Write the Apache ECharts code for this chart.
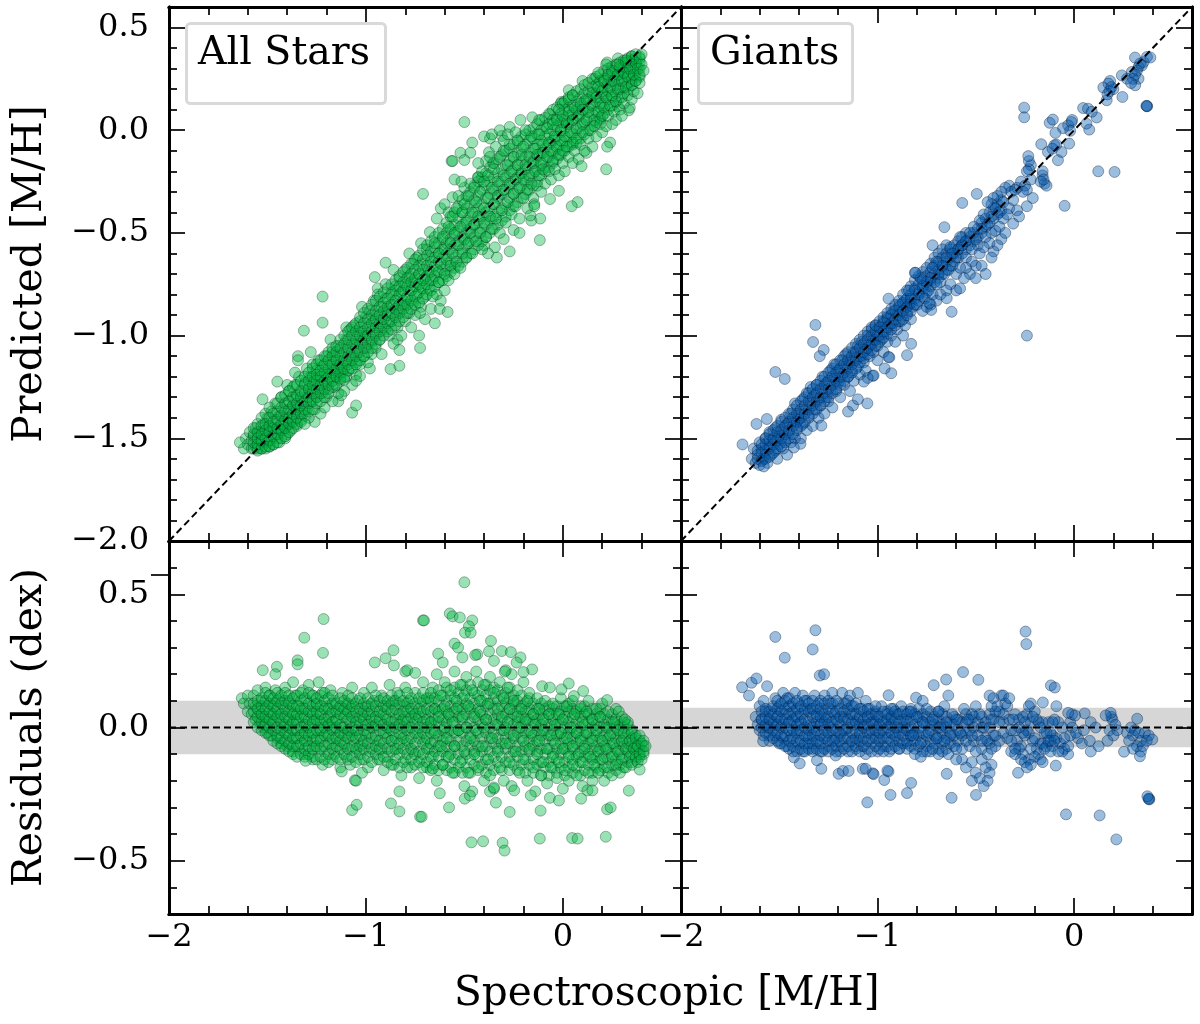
<!DOCTYPE html>
<html><head><meta charset="utf-8">
<style>html,body{margin:0;padding:0;background:#fff}#c{width:1200px;height:1024px}</style>
<script src="https://cdn.jsdelivr.net/npm/echarts@6/dist/echarts.min.js"></script></head>
<body><div id="c"></div>
<script>
const xMajor=[-2,-1,0];
const xMinor=[-1.8,-1.6,-1.4,-1.2,-0.8,-0.6,-0.4,-0.2,0.2,0.4];
const topMajor=[-2,-1.5,-1,-0.5,0,0.5];
const topMinor=[-1.9,-1.8,-1.7,-1.6,-1.4,-1.3,-1.2,-1.1,-0.9,-0.8,-0.7,-0.6,-0.4,-0.3,-0.2,-0.1,0.1,0.2,0.3,0.4];
const botMajor=[-0.5,0,0.5];
const botMinor=[-0.6,-0.4,-0.3,-0.2,-0.1,0.1,0.2,0.3,0.4,0.6];
const strayTick=[0.575];
const identityLine=[[-2,-2],[0.6,0.6]];
const zeroLine=[[-2,0],[0.6,0]];
const allBand=0.1, giantBand=0.074;

const allTopOutliers=[[-0.5,0.04],[-0.46,-0.06],[-0.52,-0.11],[-0.47,-0.11],[-0.565,-0.15],[-0.56,-0.15],[-0.5,-0.145],[-0.43,-0.16],[-0.71,-0.31],[-0.55,-0.24],[-0.515,-0.25],[-0.117,-0.535],[-0.27,-0.59],[0.22,-0.19],[0.24,-0.06],[0.225,-0.08],[0.095,-0.175],[0.075,-0.35],[0.045,-0.37],[-0.02,-0.295],[-0.065,-0.335],[-0.115,-0.43],[-0.165,-0.415],[-0.145,-0.36],[-0.145,-0.37],[-1.64,-1.52],[-1.525,-1.31],[-1.45,-1.224],[-1.315,-0.976],[-1.22,-0.81],[-1.22,-0.937],[-1.345,-1.1],[-1.345,-1.12],[-1.36,-1.18],[-1.31,-1.43],[-1.125,-1.29],[-1.07,-1.375],[-1.05,-1.34],[-1.11,-1.215],[-1.05,-1.22],[-1.03,-1.197],[-0.875,-1.163],[-0.83,-1.147],[-0.83,-1.07],[-0.725,-1.06],[-0.66,-0.81],[-0.625,-0.87],[-0.585,-0.885],[-0.725,-0.89],[-0.955,-0.715],[-0.9,-0.645],[-0.4,-0.03],[-0.36,-0.02],[-0.32,0],[-0.3,-0.05],[-0.28,-0.02],[-0.24,-0.01],[-0.19,0],[-0.12,0.05],[0.0,0.13],[-0.02,0.1],[0.03,0.15],[0.05,0.17],[0.18,0.28],[0.22,0.32],[0.32,0.34],[0.28,0.32]];
const allTopEdge=[[0.03,0.195],[0.1,0.24],[0.16,0.25],[0.225,0.33],[0.28,0.35],[-0.007,0.138],[-0.065,0.078],[-0.155,0.063],[-0.215,0.05],[-0.27,0.016],[-0.31,-0.028],[-0.37,-0.04],[0.335,0.097],[0.28,0.117],[0.19,0.05],[0.12,-0.11],[-0.355,-0.16],[-0.375,-0.107],[-0.43,-0.228],[-0.56,-0.326],[-0.64,-0.43],[-0.675,-0.496],[-0.25,-0.486],[-0.335,-0.62],[-0.345,-0.57],[-0.4,-0.56],[-0.38,-0.6],[-0.3,-0.53],[-0.22,-0.5],[-0.16,-0.44],[-0.62,-0.38],[-0.6,-0.36],[-0.58,-0.4],[-0.72,-0.55],[-0.78,-0.6],[-0.86,-0.68],[-0.94,-0.77],[-1.02,-0.86],[-1.1,-0.96],[-1.18,-1.02],[-1.28,-1.08],[-1.4,-1.24],[-0.84,-1.02],[-0.98,-1.16],[-1.14,-1.32],[-1.26,-1.42]];
const allTopCoreA=[[-1.62,-1.55],[-1.61,-1.5],[-1.6,-1.53],[-1.59,-1.47],[-1.58,-1.55],[-1.58,-1.51],[-1.57,-1.49],[-1.56,-1.54],[-1.56,-1.45],[-1.55,-1.56],[-1.55,-1.5],[-1.54,-1.47],[-1.53,-1.55],[-1.53,-1.52],[-1.52,-1.43],[-1.52,-1.49],[-1.51,-1.55],[-1.5,-1.46],[-1.5,-1.52],[-1.5,-1.4],
[-1.49,-1.54],[-1.49,-1.44],[-1.48,-1.5],[-1.48,-1.37],[-1.47,-1.46],[-1.47,-1.53],[-1.46,-1.41],[-1.46,-1.33],[-1.45,-1.5],[-1.45,-1.45],[-1.44,-1.39],[-1.44,-1.52],[-1.43,-1.47],[-1.43,-1.3],[-1.42,-1.42],[-1.42,-1.36],[-1.41,-1.5],[-1.41,-1.45],[-1.4,-1.33],[-1.4,-1.4],[-1.4,-1.48],
[-1.39,-1.27],[-1.39,-1.43],[-1.38,-1.36],[-1.38,-1.46],[-1.37,-1.31],[-1.37,-1.41],[-1.36,-1.24],[-1.36,-1.37],[-1.35,-1.44],[-1.35,-1.3],[-1.34,-1.35],[-1.34,-1.2],[-1.33,-1.41],[-1.33,-1.28],[-1.32,-1.33],[-1.32,-1.38],[-1.31,-1.23],[-1.3,-1.3],[-1.3,-1.36],[-1.3,-1.16],
[-1.29,-1.26],[-1.29,-1.4],[-1.28,-1.2],[-1.28,-1.32],[-1.27,-1.27],[-1.27,-1.14],[-1.26,-1.36],[-1.26,-1.22],[-1.25,-1.17],[-1.25,-1.3],[-1.24,-1.25],[-1.24,-1.12],[-1.23,-1.38],[-1.23,-1.2],[-1.22,-1.28],[-1.22,-1.15],[-1.21,-1.23],[-1.21,-1.35],[-1.2,-1.1],[-1.2,-1.19],[-1.2,-1.3],
[-1.19,-1.26],[-1.18,-1.14],[-1.18,-1.21],[-1.17,-1.32],[-1.17,-1.08],[-1.16,-1.17],[-1.16,-1.25],[-1.15,-1.12],[-1.15,-1.2],[-1.14,-1.28],[-1.14,-1.05],[-1.13,-1.15],[-1.13,-1.22],[-1.12,-1.1],[-1.12,-1.18],[-1.11,-1.27],[-1.1,-1.02],[-1.1,-1.13],[-1.1,-1.2],[-1.09,-1.07],
[-1.08,-1.16],[-1.08,-0.97],[-1.07,-1.24],[-1.07,-1.1],[-1.06,-1.04],[-1.06,-0.95],[-1.05,-1.13],[-1.05,-1.19],[-1.04,-1.0],[-1.04,-1.08],[-1.03,-0.93],[-1.03,-1.14],[-1.02,-1.03],[-1.02,-0.98],[-1.01,-1.1],[-1.0,-0.91],[-1.0,-1.0],[-1.0,-1.06],[-0.99,-1.13],[-0.98,-0.96],
[-0.98,-0.88],[-0.97,-1.03],[-0.97,-1.09],[-0.96,-0.93],[-0.96,-0.83],[-0.95,-0.99],[-0.95,-1.06],[-0.94,-0.9],[-0.94,-0.8],[-0.93,-0.96],[-0.93,-1.02],[-0.92,-0.86],[-0.92,-1.09],[-0.91,-0.92],[-0.9,-0.97],[-0.9,-0.82],[-0.9,-0.75],[-0.89,-0.88],[-0.88,-1.0],[-0.88,-0.93],
[-0.87,-0.79],[-0.86,-0.85],[-0.86,-1.04],[-0.85,-0.9],[-0.85,-0.76],[-0.84,-0.96],[-0.84,-0.82],[-0.83,-0.72],[-0.83,-0.88],[-0.82,-1.0],[-0.82,-0.79],[-0.81,-0.85],[-0.8,-0.93],[-0.8,-0.75],[-0.8,-0.68],[-0.79,-0.82],[-0.78,-0.89],[-0.78,-0.71],[-0.77,-0.96],[-0.77,-0.78],
[-0.76,-0.65],[-0.76,-0.84],[-0.75,-0.74],[-0.75,-0.9],[-0.74,-0.8],[-0.74,-0.62],[-0.73,-0.7],[-0.73,-1.0],[-0.72,-0.86],[-0.72,-0.76],[-0.71,-0.65],[-0.7,-0.81],[-0.7,-0.92],[-0.7,-0.72],[-0.69,-0.58],[-0.68,-0.77],[-0.68,-0.68],[-0.67,-0.87],[-0.67,-0.62],[-0.66,-0.73]];
const allTopCoreB=[[-0.65,-0.94],[-0.65,-0.55],[-0.64,-0.68],[-0.64,-0.8],[-0.63,-0.6],[-0.63,-0.74],[-0.62,-0.65],[-0.62,-0.83],[-0.61,-0.52],[-0.6,-0.7],[-0.6,-0.58],[-0.6,-0.78],[-0.59,-0.63],[-0.58,-0.47],[-0.58,-0.73],[-0.57,-0.55],[-0.57,-0.66],[-0.56,-0.42],[-0.56,-0.6],[-0.55,-0.7],
[-0.55,-0.5],[-0.54,-0.38],[-0.54,-0.64],[-0.53,-0.56],[-0.53,-0.32],[-0.52,-0.47],[-0.52,-0.67],[-0.51,-0.6],[-0.51,-0.4],[-0.5,-0.53],[-0.5,-0.28],[-0.5,-0.36],[-0.49,-0.62],[-0.49,-0.45],[-0.48,-0.55],[-0.48,-0.32],[-0.47,-0.26],[-0.47,-0.5],[-0.46,-0.6],[-0.46,-0.4],
[-0.45,-0.46],[-0.45,-0.28],[-0.44,-0.54],[-0.44,-0.35],[-0.43,-0.23],[-0.43,-0.42],[-0.42,-0.5],[-0.42,-0.3],[-0.41,-0.2],[-0.41,-0.58],[-0.4,-0.38],[-0.4,-0.45],[-0.4,-0.25],[-0.39,-0.15],[-0.39,-0.52],[-0.38,-0.33],[-0.38,-0.22],[-0.37,-0.42],[-0.37,-0.13],[-0.36,-0.28],
[-0.36,-0.48],[-0.35,-0.36],[-0.35,-0.19],[-0.34,-0.08],[-0.34,-0.43],[-0.33,-0.25],[-0.33,-0.32],[-0.32,-0.13],[-0.32,-0.5],[-0.31,-0.39],[-0.3,-0.22],[-0.3,-0.29],[-0.3,-0.1],[-0.29,-0.45],[-0.28,-0.35],[-0.28,-0.17],[-0.27,-0.26],[-0.27,-0.07],[-0.26,-0.41],[-0.26,-0.2],
[-0.25,-0.31],[-0.25,-0.13],[-0.24,-0.24],[-0.24,-0.37],[-0.23,-0.17],[-0.23,-0.05],[-0.22,-0.28],[-0.22,-0.43],[-0.21,-0.21],[-0.21,-0.12],[-0.2,-0.33],[-0.2,-0.24],[-0.2,-0.08],[-0.19,-0.17],[-0.18,-0.29],[-0.18,-0.38],[-0.17,-0.13],[-0.17,-0.22],[-0.16,-0.03],[-0.16,-0.26],
[-0.15,-0.16],[-0.15,-0.33],[-0.14,-0.09],[-0.14,-0.2],[-0.13,-0.27],[-0.13,-0.12],[-0.12,-0.02],[-0.12,-0.22],[-0.11,-0.16],[-0.11,-0.3],[-0.1,-0.07],[-0.1,-0.11],[-0.1,-0.19],[-0.09,-0.26],[-0.08,-0.13],[-0.08,0.01],[-0.07,-0.06],[-0.07,-0.2],[-0.06,-0.1],[-0.06,-0.24],
[-0.05,0.03],[-0.05,-0.15],[-0.04,-0.03],[-0.04,-0.19],[-0.03,-0.08],[-0.03,0.05],[-0.02,-0.12],[-0.02,-0.22],[-0.01,0],[-0.01,-0.05],[0,-0.16],[0,0.07],[0,-0.1],[0.01,-0.03],[0.01,-0.2],[0.02,0.03],[0.02,-0.08],[0.03,-0.13],[0.03,0.09],[0.04,-0.01],
[0.05,-0.16],[0.05,0.05],[0.05,-0.06],[0.06,0.11],[0.06,-0.1],[0.07,0.01],[0.07,-0.04],[0.08,0.07],[0.08,-0.14],[0.09,0.13],[0.09,-0.07],[0.1,0.03],[0.1,-0.01],[0.1,0.1],[0.11,-0.1],[0.12,0.05],[0.12,0.15],[0.13,-0.04],[0.13,0.09],[0.14,0],
[0.15,0.18],[0.15,0.12],[0.15,-0.08],[0.16,0.05],[0.16,0.02],[0.17,0.16],[0.17,-0.03],[0.18,0.09],[0.18,0.21],[0.19,0.03],[0.19,0.13],[0.2,-0.01],[0.2,0.19],[0.2,0.07],[0.21,0.24],[0.21,0.11],[0.22,0.02],[0.22,0.16],[0.23,0.27],[0.23,0.07],
[0.24,0.21],[0.24,0.12],[0.25,0.03],[0.25,0.29],[0.25,0.17],[0.26,0.09],[0.26,0.24],[0.27,0.05],[0.27,0.14],[0.28,0.27],[0.28,0.2],[0.29,0.1],[0.29,0.31],[0.3,0.16],[0.3,0.24],[0.3,0.07],[0.31,0.28],[0.31,0.13],[0.32,0.21],[0.32,0.33],
[0.33,0.17],[0.33,0.26],[0.34,0.11],[0.34,0.3],[0.35,0.22],[0.35,0.36],[0.35,0.15],[0.36,0.27],[0.36,0.19],[0.37,0.33],[0.37,0.24],[0.37,0.37],[0.38,0.18],[0.38,0.3],[0.39,0.35],[0.39,0.23],[0.39,0.27],[0.4,0.32],[0.4,0.37],[0.41,0.29]];
// dense-core readings: each row is one x followed by the predicted values read near it
const allTopStrips=[[-1.57,-1.55,-1.52,-1.48,-1.45],[-1.55,-1.55,-1.53,-1.5,-1.47,-1.43],[-1.53,-1.55,-1.51,-1.48,-1.44,-1.4],[-1.51,-1.54,-1.5,-1.46,-1.43,-1.38],[-1.49,-1.54,-1.51,-1.47,-1.44,-1.4,-1.35],[-1.47,-1.53,-1.49,-1.45,-1.42,-1.38],[-1.45,-1.52,-1.48,-1.45,-1.41,-1.37,-1.33],[-1.43,-1.5,-1.46,-1.43,-1.39,-1.35,-1.3],[-1.41,-1.49,-1.45,-1.41,-1.37,-1.33,-1.29],[-1.39,-1.47,-1.43,-1.4,-1.36,-1.32,-1.27],[-1.37,-1.45,-1.42,-1.38,-1.34,-1.3,-1.25],[-1.35,-1.43,-1.4,-1.36,-1.33,-1.29,-1.24],[-1.33,-1.42,-1.38,-1.34,-1.3,-1.27,-1.22],[-1.31,-1.39,-1.36,-1.32,-1.28,-1.24,-1.2],[-1.29,-1.37,-1.33,-1.3,-1.26,-1.22,-1.18],[-1.27,-1.36,-1.32,-1.28,-1.24,-1.2,-1.16],[-1.25,-1.33,-1.3,-1.26,-1.22,-1.19,-1.14],[-1.23,-1.32,-1.28,-1.24,-1.2,-1.17,-1.12],[-1.21,-1.3,-1.26,-1.22,-1.18,-1.14,-1.1],[-1.19,-1.28,-1.24,-1.2,-1.16,-1.12,-1.08],[-1.17,-1.25,-1.22,-1.18,-1.14,-1.1,-1.06],[-1.15,-1.24,-1.2,-1.16,-1.12,-1.08,-1.05],[-1.13,-1.21,-1.18,-1.14,-1.1,-1.06,-1.02],[-1.11,-1.2,-1.16,-1.12,-1.08,-1.04,-1.0],[-1.09,-1.17,-1.14,-1.1,-1.06,-1.02,-0.98],[-1.07,-1.16,-1.12,-1.08,-1.04,-1.0,-0.96],[-1.05,-1.14,-1.1,-1.06,-1.02,-0.98,-0.94],[-1.03,-1.12,-1.08,-1.04,-1.0,-0.96,-0.91],[-1.01,-1.1,-1.06,-1.02,-0.98,-0.94,-0.89],[-0.99,-1.08,-1.04,-1.0,-0.96,-0.92,-0.87],[-0.97,-1.06,-1.02,-0.98,-0.94,-0.9,-0.85],[-0.95,-1.04,-1.0,-0.96,-0.92,-0.88,-0.83],[-0.93,-1.02,-0.98,-0.94,-0.9,-0.86,-0.81],[-0.91,-1.0,-0.96,-0.92,-0.88,-0.84,-0.79],[-0.89,-0.98,-0.94,-0.9,-0.86,-0.82,-0.77],[-0.87,-0.97,-0.93,-0.89,-0.85,-0.8,-0.75],[-0.85,-0.95,-0.91,-0.87,-0.83,-0.78,-0.73],[-0.83,-0.93,-0.89,-0.85,-0.8,-0.76,-0.71],[-0.81,-0.91,-0.87,-0.83,-0.78,-0.74,-0.69],[-0.79,-0.89,-0.85,-0.81,-0.76,-0.72,-0.67],[-0.77,-0.87,-0.83,-0.78,-0.74,-0.7,-0.65],[-0.75,-0.85,-0.81,-0.76,-0.72,-0.68,-0.63],[-0.73,-0.84,-0.79,-0.75,-0.7,-0.66,-0.61],[-0.71,-0.82,-0.77,-0.73,-0.68,-0.63,-0.58],[-0.69,-0.8,-0.75,-0.71,-0.66,-0.61,-0.56],[-0.67,-0.78,-0.73,-0.69,-0.64,-0.59,-0.54],[-0.65,-0.76,-0.71,-0.66,-0.62,-0.57,-0.52],[-0.63,-0.74,-0.69,-0.64,-0.6,-0.55,-0.5],[-0.61,-0.73,-0.68,-0.62,-0.58,-0.53,-0.48],[-0.59,-0.71,-0.66,-0.6,-0.55,-0.5,-0.45],[-0.57,-0.69,-0.64,-0.58,-0.53,-0.48,-0.42],[-0.55,-0.67,-0.62,-0.56,-0.51,-0.46,-0.4],[-0.53,-0.66,-0.6,-0.54,-0.49,-0.43,-0.37],[-0.51,-0.64,-0.58,-0.52,-0.46,-0.4,-0.34],[-0.49,-0.62,-0.56,-0.5,-0.44,-0.38,-0.32],[-0.47,-0.6,-0.54,-0.48,-0.42,-0.36,-0.3],[-0.45,-0.58,-0.52,-0.46,-0.4,-0.34,-0.27],[-0.43,-0.56,-0.5,-0.44,-0.38,-0.32,-0.25],[-0.41,-0.54,-0.48,-0.42,-0.36,-0.29,-0.23],[-0.39,-0.52,-0.46,-0.4,-0.33,-0.27,-0.21],[-0.37,-0.5,-0.44,-0.38,-0.31,-0.25,-0.18],[-0.35,-0.48,-0.42,-0.36,-0.29,-0.23,-0.16],[-0.33,-0.46,-0.4,-0.33,-0.27,-0.21,-0.14],[-0.31,-0.44,-0.38,-0.31,-0.25,-0.19,-0.12],[-0.29,-0.42,-0.36,-0.29,-0.23,-0.17,-0.1],[-0.27,-0.39,-0.33,-0.27,-0.21,-0.15,-0.09],[-0.25,-0.37,-0.31,-0.25,-0.19,-0.13,-0.07],[-0.23,-0.35,-0.29,-0.23,-0.17,-0.11,-0.05],[-0.21,-0.33,-0.27,-0.21,-0.15,-0.09,-0.03],[-0.19,-0.31,-0.25,-0.19,-0.13,-0.07,-0.02],[-0.17,-0.29,-0.23,-0.17,-0.11,-0.05,0],[-0.15,-0.27,-0.21,-0.15,-0.09,-0.04,0.01],[-0.13,-0.25,-0.19,-0.13,-0.07,-0.02,0.03],[-0.11,-0.22,-0.17,-0.11,-0.05,0,0.05],[-0.09,-0.2,-0.15,-0.09,-0.03,0.02,0.06],[-0.07,-0.18,-0.13,-0.07,-0.02,0.03,0.08],[-0.05,-0.16,-0.11,-0.05,0,0.05,0.1],[-0.03,-0.14,-0.09,-0.03,0.02,0.06,0.11],[-0.01,-0.12,-0.07,-0.01,0.04,0.08,0.13],[0.01,-0.1,-0.05,0.01,0.05,0.1,0.14],[0.03,-0.08,-0.03,0.03,0.07,0.11,0.16],[0.05,-0.07,-0.02,0.05,0.08,0.12,0.17],[0.07,-0.06,0,0.06,0.1,0.14,0.19],[0.09,-0.04,0.02,0.08,0.12,0.16,0.2],[0.11,-0.02,0.04,0.1,0.14,0.18,0.22],[0.13,0,0.06,0.11,0.15,0.19,0.23],[0.15,0.02,0.08,0.13,0.17,0.21,0.25],[0.17,0.04,0.09,0.14,0.18,0.22,0.26],[0.19,0.06,0.11,0.16,0.2,0.24,0.27],[0.21,0.08,0.13,0.17,0.21,0.25,0.29],[0.23,0.1,0.15,0.19,0.23,0.26,0.3],[0.25,0.12,0.16,0.2,0.24,0.28,0.31],[0.27,0.14,0.18,0.22,0.26,0.29,0.32],[0.29,0.16,0.2,0.24,0.27,0.3,0.33],[0.31,0.18,0.21,0.25,0.28,0.31,0.34],[0.33,0.2,0.23,0.27,0.3,0.33,0.35],[0.35,0.22,0.25,0.28,0.31,0.34,0.36],[0.37,0.24,0.27,0.3,0.33,0.35],[0.39,0.26,0.3,0.33,0.36]];

const allBotOutliers=[[-1.215,0.407],[-1.313,0.337],[-1.218,0.28],[-1.347,0.252],[-1.347,0.237],[-1.524,0.215],[-1.452,0.228],[-1.46,0.2],[-0.86,0.29],[-0.9,0.26],[-0.955,0.244],[-0.858,0.233],[-0.71,0.402],[-0.8,0.21],[-0.79,0.215],[-0.75,0.205],[-0.83,-0.24],[-0.873,-0.285],[-0.83,-0.315],[-0.725,-0.335],[-1.07,-0.31],[-1.047,-0.29],[-1.123,-0.165],[-1.306,-0.125],[-1.056,-0.198],[-1.05,-0.2],[-1.02,-0.17],[-0.5,0.545],[-0.574,0.428],[-0.56,0.417],[-0.523,0.413],[-0.46,0.402],[-0.477,0.38],[-0.497,0.356],[-0.468,0.356],[-0.705,0.402],[-0.55,0.315],[-0.532,0.3],[-0.365,0.325],[-0.633,0.277],[-0.61,0.244],[-0.51,0.263],[-0.435,0.274],[-0.445,0.272],[-0.375,0.286],[-0.31,0.287],[-0.264,0.283],[-0.215,0.263],[-0.35,0.25],[-0.235,0.244],[-0.156,0.218],[-0.2,0.208],[-0.29,0.215],[-0.295,0.21],[-0.105,0.155],[-0.066,0.15],[0.03,0.165],[-0.007,0.143],[0.103,0.137],[0.056,0.118],[0.225,0.103],[0.284,0.06],[0.315,0.03],[-0.66,-0.154],[-0.625,-0.247],[-0.578,-0.3],[-0.717,-0.335],[-0.464,-0.431],[-0.405,-0.427],[-0.306,-0.433],[-0.296,-0.462],[-0.117,-0.417],[0.047,-0.415],[0.075,-0.417],[0.218,-0.41],[-0.27,-0.317],[-0.34,-0.282],[-0.113,-0.312],[-0.498,-0.267],[-0.472,-0.255],[-0.37,-0.24],[-0.35,-0.225],[-0.247,-0.236],[-0.163,-0.255],[-0.066,-0.264],[-0.02,-0.274],[0.093,-0.267],[0.125,-0.236],[0.15,-0.236],[0.225,-0.307],[0.243,-0.3],[0.335,-0.237],[0.39,-0.158]];
const allBotCoreA=[[-1.63,0.11],[-1.62,0.09],[-1.6,0.12],[-1.6,0.06],[-1.59,0.09],[-1.58,0.05],[-1.57,0.12],[-1.56,0.03],[-1.56,0.08],[-1.55,0.14],[-1.54,0.02],[-1.54,0.06],[-1.53,0.1],[-1.52,0.0],[-1.52,0.04],[-1.51,0.15],[-1.5,0.08],[-1.5,-0.02],[-1.5,0.03],[-1.49,0.12],
[-1.48,0.05],[-1.48,-0.03],[-1.47,0.09],[-1.47,0.01],[-1.46,0.14],[-1.45,-0.04],[-1.45,0.06],[-1.44,0.03],[-1.44,0.11],[-1.43,-0.06],[-1.42,0.0],[-1.42,0.08],[-1.41,0.15],[-1.4,-0.07],[-1.4,0.04],[-1.4,-0.02],[-1.39,0.1],[-1.38,0.01],[-1.38,0.06],[-1.37,-0.09],
[-1.37,0.17],[-1.36,-0.04],[-1.36,0.12],[-1.35,0.03],[-1.34,0.08],[-1.34,-0.07],[-1.33,-0.01],[-1.32,0.14],[-1.32,0.05],[-1.31,-0.1],[-1.3,0.01],[-1.3,0.1],[-1.3,-0.05],[-1.29,0.16],[-1.28,0.06],[-1.28,-0.02],[-1.27,-0.12],[-1.27,0.12],[-1.26,0.03],[-1.26,-0.07],
[-1.25,0.09],[-1.24,0.0],[-1.24,0.17],[-1.23,-0.04],[-1.23,0.05],[-1.22,-0.14],[-1.22,0.13],[-1.21,-0.09],[-1.2,0.02],[-1.2,0.08],[-1.2,-0.02],[-1.19,-0.13],[-1.18,0.14],[-1.18,0.05],[-1.17,-0.06],[-1.17,0.0],[-1.16,0.1],[-1.16,-0.1],[-1.15,0.03],[-1.14,0.07],
[-1.14,-0.03],[-1.13,-0.15],[-1.12,0.13],[-1.12,0.0],[-1.11,-0.07],[-1.1,0.05],[-1.1,0.09],[-1.1,-0.11],[-1.09,-0.02],[-1.08,0.02],[-1.08,-0.14],[-1.07,0.15],[-1.07,0.07],[-1.06,-0.05],[-1.05,-0.09],[-1.05,0.03],[-1.04,0.1],[-1.04,-0.01],[-1.03,-0.12],[-1.02,0.05],
[-1.02,-0.06],[-1.01,0.13],[-1.0,0.01],[-1.0,-0.03],[-1.0,0.08],[-0.99,-0.15],[-0.98,-0.09],[-0.98,0.04],[-0.97,0.15],[-0.96,0.0],[-0.96,0.1],[-0.95,-0.05],[-0.94,-0.12],[-0.94,0.06],[-0.93,0.02],[-0.92,0.12],[-0.92,-0.08],[-0.91,-0.16],[-0.9,0.04],[-0.9,-0.02],
[-0.9,0.08],[-0.89,-0.11],[-0.88,0.16],[-0.88,0.0],[-0.87,-0.05],[-0.86,0.1],[-0.86,-0.14],[-0.85,0.05],[-0.84,-0.08],[-0.84,0.13],[-0.83,0.02],[-0.82,-0.18],[-0.82,-0.03],[-0.81,0.08],[-0.8,-0.12],[-0.8,0.04],[-0.8,0.15],[-0.79,-0.06],[-0.78,0.0],[-0.78,0.1],
[-0.77,-0.15],[-0.76,0.06],[-0.76,-0.09],[-0.75,0.13],[-0.74,-0.02],[-0.74,0.03],[-0.73,-0.19],[-0.72,0.09],[-0.72,-0.12],[-0.71,0.17],[-0.7,-0.05],[-0.7,0.05],[-0.7,0.0],[-0.69,-0.15],[-0.68,0.11],[-0.68,-0.08],[-0.67,0.02],[-0.66,0.15],[-0.66,-0.11],[-0.65,0.07]];
const allBotCoreB=[[-0.65,-0.02],[-0.64,-0.2],[-0.64,0.2],[-0.63,0.04],[-0.62,-0.07],[-0.62,0.12],[-0.61,-0.14],[-0.6,0.0],[-0.6,0.08],[-0.6,0.17],[-0.59,-0.04],[-0.58,-0.11],[-0.58,0.05],[-0.57,0.14],[-0.56,-0.17],[-0.56,0.02],[-0.55,0.21],[-0.55,-0.07],[-0.54,0.1],[-0.54,0.07],
[-0.53,-0.01],[-0.52,-0.13],[-0.52,0.16],[-0.51,0.04],[-0.5,-0.09],[-0.5,0.12],[-0.5,-0.22],[-0.49,0.19],[-0.49,0.0],[-0.48,0.08],[-0.48,-0.17],[-0.47,-0.04],[-0.46,0.14],[-0.46,-0.24],[-0.45,0.04],[-0.45,-0.1],[-0.44,0.21],[-0.44,-0.01],[-0.43,-0.15],[-0.42,0.1],
[-0.42,0.06],[-0.41,-0.07],[-0.4,0.16],[-0.4,-0.2],[-0.4,0.0],[-0.39,0.03],[-0.38,-0.12],[-0.38,0.09],[-0.37,-0.18],[-0.37,0.19],[-0.36,-0.04],[-0.35,0.13],[-0.35,-0.23],[-0.34,0.01],[-0.33,-0.09],[-0.33,0.07],[-0.32,-0.15],[-0.32,0.17],[-0.31,0.04],[-0.3,-0.01],
[-0.3,0.11],[-0.3,-0.2],[-0.29,-0.06],[-0.28,0.15],[-0.28,0.02],[-0.27,-0.13],[-0.27,0.07],[-0.26,-0.22],[-0.26,0.2],[-0.25,-0.03],[-0.25,0.1],[-0.24,-0.09],[-0.23,0.04],[-0.23,0.14],[-0.22,-0.17],[-0.22,0.0],[-0.21,0.07],[-0.2,-0.12],[-0.2,0.17],[-0.2,-0.05],
[-0.19,0.03],[-0.18,-0.2],[-0.18,0.1],[-0.17,-0.08],[-0.17,0.13],[-0.16,-0.02],[-0.15,-0.15],[-0.15,0.05],[-0.14,-0.24],[-0.14,0.01],[-0.13,0.11],[-0.13,-0.1],[-0.12,-0.05],[-0.12,0.07],[-0.11,-0.18],[-0.1,0.03],[-0.1,-0.13],[-0.1,-0.01],[-0.09,0.1],[-0.08,-0.08],
[-0.08,-0.21],[-0.07,0.05],[-0.06,-0.03],[-0.06,-0.15],[-0.05,0.09],[-0.05,-0.11],[-0.04,0.01],[-0.04,-0.06],[-0.03,-0.19],[-0.02,0.05],[-0.02,-0.13],[-0.01,0.11],[-0.01,-0.02],[0,-0.08],[0,-0.23],[0,0.03],[0.01,-0.16],[0.02,0.08],[0.02,-0.04],[0.03,-0.11],
[0.03,-0.2],[0.04,0.0],[0.05,0.1],[0.05,-0.07],[0.05,-0.14],[0.06,0.05],[0.07,-0.02],[0.07,-0.18],[0.08,-0.1],[0.09,0.08],[0.09,-0.05],[0.1,-0.22],[0.1,0.02],[0.1,-0.13],[0.11,-0.08],[0.12,0.06],[0.12,-0.02],[0.13,-0.17],[0.13,0.1],[0.14,-0.11],
[0.15,-0.05],[0.15,0.03],[0.15,-0.2],[0.16,-0.14],[0.17,0.07],[0.17,-0.01],[0.18,-0.09],[0.18,-0.17],[0.19,0.04],[0.2,-0.05],[0.2,-0.12],[0.2,0.09],[0.21,-0.2],[0.22,0.0],[0.22,-0.08],[0.23,-0.15],[0.23,0.06],[0.24,-0.03],[0.25,-0.11],[0.25,-0.18],
[0.26,0.02],[0.26,-0.06],[0.27,0.07],[0.27,-0.14],[0.28,-0.01],[0.28,-0.09],[0.29,-0.17],[0.3,0.04],[0.3,-0.05],[0.3,-0.12],[0.31,-0.02],[0.32,-0.08],[0.32,-0.15],[0.33,0.02],[0.34,-0.05],[0.34,-0.11],[0.35,-0.02],[0.35,-0.14],[0.36,-0.08],[0.37,-0.04],
[0.37,-0.11],[0.38,-0.07],[0.38,-0.13],[0.39,-0.03],[0.39,-0.1],[0.4,-0.06],[0.4,-0.12],[0.41,-0.05],[0.41,-0.09],[0.42,-0.07]];
const allBotStrips=[[-1.57,0.02,0.06,0.09],[-1.55,0.0,0.04,0.07,0.1],[-1.53,-0.01,0.02,0.05,0.08,0.11],[-1.51,-0.02,0.01,0.04,0.07,0.1,0.13],[-1.49,-0.03,0,0.03,0.06,0.09,0.12],[-1.47,-0.05,-0.01,0.02,0.05,0.08,0.11],[-1.45,-0.06,-0.03,0,0.04,0.07,0.1,0.13],[-1.43,-0.07,-0.04,-0.01,0.02,0.05,0.09,0.12],[-1.41,-0.08,-0.05,-0.02,0.01,0.04,0.07,0.1,0.13],[-1.39,-0.09,-0.06,-0.03,0,0.03,0.06,0.09,0.12],[-1.37,-0.1,-0.07,-0.04,-0.01,0.02,0.05,0.08,0.11],[-1.35,-0.11,-0.07,-0.04,-0.01,0.02,0.05,0.08,0.12],[-1.33,-0.1,-0.06,-0.03,0,0.04,0.07,0.1,0.13],[-1.31,-0.11,-0.08,-0.05,-0.02,0.01,0.04,0.07,0.11],[-1.29,-0.1,-0.07,-0.03,0,0.03,0.06,0.09,0.13],[-1.27,-0.11,-0.08,-0.05,-0.02,0.02,0.05,0.08,0.12],[-1.25,-0.12,-0.07,-0.04,-0.01,0.03,0.06,0.09,0.11],[-1.23,-0.11,-0.08,-0.05,-0.01,0.02,0.05,0.08,0.12],[-1.21,-0.12,-0.07,-0.03,0,0.03,0.07,0.1,0.13],[-1.19,-0.1,-0.06,-0.03,0.01,0.04,0.07,0.11],[-1.17,-0.12,-0.08,-0.04,-0.01,0.02,0.06,0.09,0.12],[-1.15,-0.11,-0.07,-0.04,0,0.03,0.06,0.09],[-1.13,-0.12,-0.08,-0.05,-0.02,0.01,0.05,0.08,0.11],[-1.11,-0.1,-0.06,-0.03,0,0.04,0.07,0.1],[-1.09,-0.12,-0.08,-0.04,-0.01,0.03,0.06,0.09,0.12],[-1.07,-0.11,-0.07,-0.03,0,0.04,0.08,0.11],[-1.05,-0.13,-0.08,-0.04,-0.01,0.02,0.06,0.09],[-1.03,-0.1,-0.07,-0.03,0.01,0.04,0.07,0.11],[-1.01,-0.12,-0.08,-0.05,-0.01,0.03,0.06,0.09],[-0.99,-0.11,-0.06,-0.02,0.01,0.05,0.08,0.11],[-0.97,-0.13,-0.08,-0.04,0,0.03,0.06,0.09],[-0.95,-0.1,-0.07,-0.03,0.01,0.04,0.08,0.12],[-0.93,-0.12,-0.08,-0.05,-0.01,0.03,0.06,0.1],[-0.91,-0.11,-0.06,-0.02,0.01,0.05,0.08,0.11],[-0.89,-0.13,-0.08,-0.04,0,0.03,0.07,0.1],[-0.87,-0.14,-0.09,-0.05,-0.01,0.02,0.06,0.09,0.12],[-0.85,-0.12,-0.08,-0.04,0,0.03,0.07,0.1],[-0.83,-0.15,-0.1,-0.06,-0.02,0.01,0.05,0.09,0.12],[-0.81,-0.13,-0.08,-0.04,0,0.03,0.06,0.1],[-0.79,-0.15,-0.1,-0.05,-0.01,0.02,0.06,0.09,0.13],[-0.77,-0.12,-0.08,-0.04,0,0.04,0.07,0.11],[-0.75,-0.14,-0.1,-0.06,-0.02,0.02,0.05,0.09],[-0.73,-0.13,-0.09,-0.04,0,0.04,0.07,0.11],[-0.71,-0.15,-0.1,-0.06,-0.02,0.02,0.06,0.1,0.13],[-0.69,-0.13,-0.08,-0.04,0,0.03,0.07,0.11],[-0.67,-0.16,-0.11,-0.06,-0.02,0.02,0.06,0.1,0.13],[-0.65,-0.14,-0.09,-0.05,-0.01,0.03,0.07,0.11],[-0.63,-0.16,-0.11,-0.07,-0.03,0.02,0.06,0.1,0.14],[-0.61,-0.14,-0.09,-0.05,-0.01,0.03,0.07,0.12],[-0.59,-0.16,-0.11,-0.07,-0.02,0.02,0.06,0.1,0.15],[-0.57,-0.15,-0.1,-0.05,-0.01,0.04,0.08,0.12],[-0.55,-0.17,-0.12,-0.07,-0.02,0.02,0.06,0.11,0.15],[-0.53,-0.15,-0.1,-0.05,-0.01,0.04,0.08,0.13],[-0.51,-0.17,-0.12,-0.07,-0.02,0.03,0.07,0.11,0.16],[-0.49,-0.15,-0.1,-0.05,0,0.05,0.09,0.14],[-0.47,-0.17,-0.12,-0.07,-0.03,0.02,0.07,0.11,0.16],[-0.45,-0.14,-0.09,-0.05,0,0.05,0.09,0.13],[-0.43,-0.16,-0.11,-0.07,-0.02,0.03,0.07,0.12,0.17],[-0.41,-0.14,-0.09,-0.04,0.01,0.05,0.1,0.14],[-0.39,-0.17,-0.12,-0.07,-0.02,0.03,0.08,0.12,0.16],[-0.37,-0.14,-0.09,-0.04,0,0.05,0.09,0.14],[-0.35,-0.16,-0.11,-0.06,-0.02,0.03,0.07,0.11,0.15],[-0.33,-0.13,-0.08,-0.04,0.01,0.05,0.1,0.14],[-0.31,-0.16,-0.11,-0.06,-0.01,0.03,0.08,0.12],[-0.29,-0.13,-0.08,-0.04,0,0.05,0.09,0.13],[-0.27,-0.16,-0.11,-0.06,-0.02,0.03,0.07,0.11,0.15],[-0.25,-0.14,-0.09,-0.04,0.01,0.05,0.09,0.12],[-0.23,-0.16,-0.11,-0.07,-0.02,0.02,0.06,0.1],[-0.21,-0.14,-0.09,-0.04,0,0.04,0.08,0.12],[-0.19,-0.17,-0.12,-0.07,-0.02,0.02,0.06,0.09],[-0.17,-0.14,-0.09,-0.05,-0.01,0.03,0.07,0.11],[-0.15,-0.17,-0.12,-0.07,-0.03,0.02,0.05,0.09],[-0.13,-0.14,-0.09,-0.05,-0.01,0.03,0.07],[-0.11,-0.18,-0.13,-0.08,-0.03,0.01,0.05,0.09],[-0.09,-0.15,-0.1,-0.05,-0.01,0.03,0.07],[-0.07,-0.18,-0.13,-0.08,-0.03,0.01,0.05,0.08],[-0.05,-0.15,-0.1,-0.05,-0.01,0.03,0.07],[-0.03,-0.17,-0.12,-0.08,-0.03,0.01,0.05,0.08],[-0.01,-0.15,-0.1,-0.06,-0.02,0.02,0.06],[0.01,-0.18,-0.13,-0.08,-0.04,0,0.04,0.08],[0.03,-0.15,-0.1,-0.06,-0.02,0.02,0.06,0.09],[0.05,-0.17,-0.12,-0.08,-0.04,0,0.04,0.07],[0.07,-0.15,-0.11,-0.06,-0.02,0.02,0.06],[0.09,-0.18,-0.13,-0.09,-0.04,0,0.04,0.07],[0.11,-0.16,-0.11,-0.07,-0.03,0.01,0.05,0.08],[0.13,-0.14,-0.1,-0.06,-0.02,0.02,0.05],[0.15,-0.17,-0.12,-0.08,-0.04,0,0.03,0.07],[0.17,-0.15,-0.11,-0.07,-0.03,0.01,0.05],[0.19,-0.16,-0.12,-0.08,-0.04,0,0.04,0.07],[0.21,-0.15,-0.11,-0.07,-0.03,0.01,0.05],[0.23,-0.17,-0.12,-0.08,-0.04,0,0.03],[0.25,-0.14,-0.1,-0.06,-0.02,0.02,0.05],[0.27,-0.16,-0.12,-0.08,-0.04,0,0.03],[0.29,-0.14,-0.1,-0.06,-0.02,0.01],[0.31,-0.15,-0.11,-0.07,-0.04,0,0.02],[0.33,-0.13,-0.09,-0.06,-0.02,0.01],[0.35,-0.13,-0.1,-0.07,-0.04,-0.01],[0.37,-0.12,-0.09,-0.06,-0.03],[0.39,-0.11,-0.08,-0.05],[0.41,-0.1,-0.07]];

const giantTopOutliers=[[-0.254,0.11],[-0.254,0.063],[0.37,0.117],[0.372,0.117],[0.368,0.119],[0.123,-0.2],[0.206,-0.203],[-0.048,-0.368],[-0.167,-0.068],[-0.233,-0.126],[-0.569,-0.354],[-0.495,-0.31],[-0.66,-0.472],[-0.72,-0.56],[-0.81,-0.694],[-0.31,-0.455],[0.246,0.162],[0.243,0.267],[0.31,0.354],[0.388,0.354],[-0.24,-1.0],[-1.687,-1.53],[-1.579,-1.637],[-1.616,-1.43],[-1.563,-1.406],[-1.52,-1.177],[-1.472,-1.211],[-1.328,-1.031],[-1.316,-0.948],[-1.274,-1.07],[-1.294,-1.1],[-0.944,-0.82],[-0.829,-1.04],[-0.85,-1.095],[-1.052,-1.33],[-1.125,-1.34],[-1.15,-1.37],[-1.1,-1.31],[-1.286,-1.438],[-1.392,-1.527],[-1.426,-1.545],[-0.93,-1.183],[-0.964,-1.16],[-0.944,-1.104],[-0.94,-1.106],[-1.024,-1.196],[-1.02,-1.194],[-1.05,-1.206],[-1.07,-1.224],[-0.623,-0.884],[-0.648,-0.818],[-0.727,-0.875],[-0.736,-0.842],[-0.807,-0.694]];
const giantTopTrail=[[0.354,0.332],[0.328,0.308],[0.294,0.284],[0.269,0.251],[0.328,0.251],[0.311,0.219],[0.371,0.357],[0.336,0.325],[0.345,0.315],[0.32,0.29],[0.31,0.27],[0.3,0.25],[0.29,0.23],[0.183,0.24],[0.2,0.2],[0.149,0.208],[0.166,0.146],[0.175,0.227],[0.18,0.19],[0.19,0.21],[0.17,0.175],[0.046,0.108],[0.071,0.105],[0.115,0.062],[0.077,0.003],[0.063,0.032],[0.09,0.09],[-0.013,0.04],[-0.03,0.024],[-0.02,-0.003],[-0.01,0.05],[-0.124,0.036],[-0.108,0.052],[-0.095,-0.013],[-0.056,0.01],[-0.025,-0.065],[-0.1,-0.073],[-0.133,-0.106],[-0.064,-0.106],[-0.082,-0.146],[-0.09,-0.07],[-0.11,-0.09],[-0.22,-0.17],[-0.23,-0.19],[-0.24,-0.2],[-0.22,-0.24],[-0.23,-0.15],[-0.16,-0.22],[-0.15,-0.26],[-0.14,-0.27],[-0.17,-0.25],[-0.16,-0.2],[-0.155,-0.24],[-0.29,-0.28],[-0.27,-0.25],[-0.25,-0.27],[-0.24,-0.29],[-0.26,-0.3],[-0.33,-0.27],[-0.35,-0.28],[-0.32,-0.3],[-0.31,-0.34],[-0.3,-0.29],[-0.37,-0.3],[-0.39,-0.32],[-0.41,-0.33],[-0.42,-0.36],[-0.4,-0.38],[-0.36,-0.35],[-0.44,-0.35],[-0.38,-0.4],[-0.33,-0.38],[-0.21,-0.33],[-0.24,-0.37],[-0.29,-0.39],[-0.28,-0.42],[-0.36,-0.43],[-0.34,-0.41],[-0.42,-0.42],[-0.46,-0.41],[-0.48,-0.44],[-0.47,-0.48],[-0.44,-0.46],[-0.42,-0.5],[-0.4,-0.49],[-0.45,-0.52],[-0.43,-0.55],[-0.38,-0.47],[-0.37,-0.53],[-0.39,-0.56],[-0.41,-0.59],[-0.42,-0.62],[-0.35,-0.5],[-0.51,-0.47],[-0.53,-0.5],[-0.5,-0.53],[-0.49,-0.56],[-0.52,-0.58],[-0.55,-0.54],[-0.48,-0.6],[-0.46,-0.57],[-0.57,-0.56],[-0.59,-0.58],[-0.6,-0.62],[-0.58,-0.52],[-0.55,-0.62],[-0.52,-0.64],[-0.5,-0.66],[-0.47,-0.66],[-0.45,-0.7],[-0.53,-0.7],[-0.5,-0.72],[-0.55,-0.67],[-0.6,-0.7],[-0.63,-0.57],[-0.62,-0.66],[-0.65,-0.62],[-0.64,-0.68],[-0.67,-0.66],[-0.66,-0.7],[-0.62,-0.6],[-0.58,-0.67],[-0.56,-0.72],[-0.7,-0.64],[-0.69,-0.7],[-0.72,-0.67],[-0.68,-0.74],[-0.73,-0.72],[-0.63,-0.75],[-0.6,-0.78],[-0.58,-0.77],[-0.65,-0.78],[-0.7,-0.75],[-0.75,-0.74],[-0.77,-0.76],[-0.74,-0.78],[-0.72,-0.8],[-0.7,-0.83],[-0.78,-0.72],[-0.79,-0.8],[-0.76,-0.82],[-0.73,-0.85],[-0.68,-0.8],[-0.81,-0.78],[-0.83,-0.82],[-0.8,-0.85],[-0.77,-0.88],[-0.84,-0.78],[-0.75,-0.86]];
const giantTopCore=[[-1.64,-1.6],[-1.63,-1.55],[-1.62,-1.62],[-1.61,-1.58],[-1.6,-1.52],[-1.6,-1.63],[-1.59,-1.55],[-1.58,-1.6],[-1.57,-1.5],[-1.57,-1.58],[-1.56,-1.62],[-1.55,-1.54],[-1.55,-1.47],[-1.54,-1.58],[-1.53,-1.51],[-1.52,-1.45],[-1.52,-1.56],[-1.51,-1.6],[-1.5,-1.49],[-1.5,-1.53],
[-1.49,-1.41],[-1.48,-1.55],[-1.48,-1.47],[-1.47,-1.51],[-1.46,-1.43],[-1.46,-1.58],[-1.45,-1.47],[-1.44,-1.52],[-1.44,-1.38],[-1.43,-1.42],[-1.42,-1.5],[-1.42,-1.33],[-1.41,-1.45],[-1.4,-1.38],[-1.4,-1.41],[-1.39,-1.5],[-1.38,-1.31],[-1.38,-1.43],[-1.37,-1.36],[-1.36,-1.46],
[-1.36,-1.28],[-1.35,-1.39],[-1.34,-1.33],[-1.34,-1.25],[-1.33,-1.44],[-1.32,-1.36],[-1.32,-1.29],[-1.31,-1.24],[-1.3,-1.4],[-1.3,-1.31],[-1.29,-1.34],[-1.28,-1.26],[-1.28,-1.2],[-1.27,-1.38],[-1.26,-1.3],[-1.26,-1.23],[-1.25,-1.32],[-1.24,-1.17],[-1.24,-1.27],[-1.23,-1.35],
[-1.22,-1.21],[-1.22,-1.14],[-1.21,-1.27],[-1.2,-1.17],[-1.2,-1.23],[-1.19,-1.3],[-1.18,-1.2],[-1.18,-1.12],[-1.17,-1.24],[-1.16,-1.15],[-1.16,-1.09],[-1.15,-1.2],[-1.14,-1.27],[-1.14,-1.13],[-1.13,-1.17],[-1.12,-1.08],[-1.12,-1.22],[-1.11,-1.11],[-1.1,-1.15],[-1.1,-1.05],
[-1.09,-1.19],[-1.08,-1.1],[-1.08,-1.03],[-1.07,-1.13],[-1.06,-1.07],[-1.06,-1.17],[-1.05,-1.0],[-1.04,-1.1],[-1.04,-1.05],[-1.03,-0.97],[-1.02,-1.08],[-1.02,-1.02],[-1.01,-0.95],[-1,-1.05],[-1,-1],[-1,-1.12],[-0.99,-0.96],[-0.98,-1.02],[-0.97,-0.93],[-0.97,-1.08],
[-0.96,-0.98],[-0.95,-0.91],[-0.95,-1.03],[-0.94,-0.95],[-0.93,-1],[-0.92,-0.88],[-0.92,-0.94],[-0.91,-1.03],[-0.9,-0.9],[-0.9,-0.97],[-0.89,-0.85],[-0.88,-0.93],[-0.87,-0.88],[-0.87,-1],[-0.86,-0.83],[-0.86,-0.95],[-0.85,-0.89],[-0.84,-0.85],[-0.83,-0.92],[-0.82,-0.86]];
const giantTopStrips=[[-1.61,-1.6,-1.56],[-1.59,-1.61,-1.57,-1.53],[-1.57,-1.6,-1.56,-1.53,-1.5],[-1.55,-1.59,-1.55,-1.51,-1.48],[-1.53,-1.57,-1.53,-1.5,-1.46],[-1.51,-1.55,-1.51,-1.47,-1.44],[-1.49,-1.54,-1.5,-1.46,-1.42],[-1.47,-1.52,-1.48,-1.44,-1.4],[-1.45,-1.5,-1.46,-1.42,-1.38],[-1.43,-1.48,-1.44,-1.4,-1.36],[-1.41,-1.46,-1.42,-1.38,-1.34],[-1.39,-1.44,-1.4,-1.36,-1.32],[-1.37,-1.42,-1.38,-1.34,-1.3],[-1.35,-1.4,-1.36,-1.32,-1.28],[-1.33,-1.38,-1.34,-1.3,-1.26],[-1.31,-1.36,-1.32,-1.28,-1.24],[-1.29,-1.34,-1.3,-1.26,-1.22],[-1.27,-1.32,-1.28,-1.24,-1.2],[-1.25,-1.3,-1.26,-1.22,-1.18],[-1.23,-1.28,-1.24,-1.2,-1.16],[-1.21,-1.26,-1.22,-1.18,-1.14],[-1.19,-1.24,-1.2,-1.16,-1.12],[-1.17,-1.22,-1.18,-1.14,-1.1],[-1.15,-1.2,-1.16,-1.12,-1.08],[-1.13,-1.18,-1.14,-1.1,-1.06],[-1.11,-1.16,-1.12,-1.08,-1.04],[-1.09,-1.13,-1.1,-1.06,-1.02],[-1.07,-1.11,-1.08,-1.04,-1.0],[-1.05,-1.09,-1.06,-1.02,-0.98],[-1.03,-1.07,-1.04,-1.0,-0.96],[-1.01,-1.05,-1.02,-0.98,-0.95],[-0.99,-1.03,-1.0,-0.96,-0.93],[-0.97,-1.01,-0.98,-0.94,-0.91],[-0.95,-0.99,-0.96,-0.92,-0.89],[-0.93,-0.97,-0.94,-0.9,-0.87],[-0.91,-0.95,-0.92,-0.88,-0.85],[-0.89,-0.93,-0.9,-0.86,-0.83],[-0.87,-0.92,-0.88,-0.84,-0.8],[-0.85,-0.9,-0.86,-0.82,-0.78],[-0.83,-0.88,-0.84,-0.8,-0.76],[-0.81,-0.85,-0.82,-0.77,-0.73],[-0.79,-0.83,-0.79,-0.75,-0.71],[-0.77,-0.81,-0.77,-0.73,-0.69],[-0.75,-0.79,-0.75,-0.71,-0.67],[-0.73,-0.76,-0.73,-0.69,-0.65],[-0.71,-0.74,-0.7,-0.66,-0.62],[-0.69,-0.72,-0.68,-0.64,-0.6],[-0.67,-0.7,-0.66,-0.62,-0.58],[-0.65,-0.68,-0.64,-0.6,-0.56],[-0.63,-0.66,-0.62,-0.58],[-0.61,-0.64,-0.6,-0.56],[-0.59,-0.62,-0.58,-0.54],[-0.57,-0.6,-0.56,-0.52],[-0.55,-0.58,-0.54,-0.5],[-0.53,-0.56,-0.52],[-0.51,-0.54,-0.5],[-0.49,-0.52,-0.48],[-0.47,-0.5,-0.45],[-0.45,-0.47,-0.43],[-0.43,-0.45,-0.4],[-0.41,-0.43,-0.38],[-0.39,-0.41,-0.36],[-0.37,-0.39,-0.34]];

const giantBotOutliers=[[-1.316,0.365],[-1.52,0.34],[-1.33,0.293],[-1.472,0.262],[-1.294,0.195],[-1.272,0.2],[-1.689,0.151],[-1.641,0.168],[-1.616,0.184],[-1.562,0.155],[-1.654,0.12],[-0.944,0.121],[-0.804,0.112],[-0.714,0.159],[-0.77,0.1],[-1.052,-0.281],[-0.934,-0.253],[-0.85,-0.246],[-0.829,-0.208],[-0.966,-0.197],[-0.944,-0.165],[-0.95,-0.162],[-1.024,-0.172],[-1.02,-0.175],[-1.075,-0.155],[-1.06,-0.155],[-1.198,-0.174],[-1.176,-0.163],[-1.147,-0.163],[-1.286,-0.155],[-1.396,-0.135],[-1.426,-0.112],[-1.308,-0.123],[-1.213,-0.105],[-1.582,-0.051],[-0.247,0.36],[-0.243,0.313],[-0.565,0.208],[-0.651,0.18],[-0.487,0.179],[-0.118,0.158],[-0.098,0.15],[-0.159,0.094],[-0.648,-0.174],[-0.623,-0.264],[-0.499,-0.253],[-0.041,-0.326],[0.13,-0.33],[0.215,-0.42],[0.381,-0.268],[0.383,-0.27],[0.379,-0.267],[0.373,-0.258],[0.254,-0.091],[0.335,-0.108],[0.398,-0.045],[0.321,0.033],[0.186,0.055],[0.161,0.045],[0.054,0.053],[0.085,0.02],[0.11,0],[0.05,-0.01],[0.08,-0.05],[0.085,-0.09],[0.125,-0.07],[-0.01,0.05],[0.005,0.045],[-0.03,0.055],[-0.09,0.08],[-0.093,-0.143],[-0.22,-0.14],[-0.24,-0.15],[-0.285,-0.17]];
const giantBotFill=[[-0.44,-0.05],[-0.42,0.03],[-0.4,-0.07],[-0.38,0.06],[-0.36,0.02],[-0.34,-0.04],[-0.33,0.03],[-0.32,-0.09],[-0.3,0.05],[-0.29,-0.05],[-0.28,0.03],[-0.27,-0.07],[-0.26,0.04],[-0.25,-0.03],[-0.24,0.05],[-0.23,-0.02],[-0.22,0.02],[-0.21,-0.05],[-0.2,-0.04],[-0.19,-0.08],[-0.18,0.02],[-0.17,-0.06],[-0.16,-0.06],[-0.15,-0.02],[-0.14,-0.07],[-0.13,0.02],[-0.12,-0.05],[-0.11,-0.03],[-0.09,-0.04],[-0.07,-0.06],[-0.05,-0.08],[-0.03,-0.1],[-0.06,-0.09],[-0.02,0.02],[0.02,-0.04],[0.04,-0.06],[-0.22,-0.08],[-0.28,-0.08],[-0.32,-0.05],[-0.26,-0.1]];
const giantBotTrail=[[0.19,0.04],[0.195,0.03],[0.18,-0.01],[0.2,-0.03],[0.17,-0.05],[0.21,0.01],[0.22,-0.01],[0.27,-0.02],[0.29,0.0],[0.3,-0.03],[0.28,-0.05],[0.31,-0.01],[0.33,-0.02],[0.34,-0.05],[0.32,-0.07],[0.3,-0.08],[0.36,-0.02],[0.38,-0.03],[0.37,-0.05],[0.35,-0.07],[0.34,-0.09],[-0.01,0],[-0.02,-0.03],[-0.03,-0.07],[-0.05,-0.04],[0.01,-0.02],[-0.06,0],[-0.08,0.02],[-0.1,0.03],[-0.11,0.02],[-0.12,-0.02],[-0.14,-0.02],[-0.16,0.02],[-0.17,0.0],[-0.19,0.03],[-0.2,0.06],[-0.21,0.04],[-0.22,0.09],[-0.23,0.08],[-0.24,-0.01],[-0.25,0.02],[-0.26,-0.02],[-0.28,0.0],[-0.3,-0.01],[-0.31,0.03],[-0.32,-0.01],[-0.3,-0.08],[-0.3,-0.1],[-0.15,-0.08],[-0.13,-0.05],[-0.11,-0.07],[-0.12,-0.09],[-0.1,-0.05],[-0.08,-0.09],[-0.18,-0.1],[-0.2,-0.11],[-0.17,-0.12],[-0.23,-0.12],[-0.27,-0.12],[-0.25,-0.13],[-0.16,-0.13],[-0.34,0.08],[-0.36,0.05],[-0.38,0.02],[-0.4,0.06],[-0.42,0.08],[-0.43,0.12],[-0.41,0.11],[-0.39,0.08],[-0.37,0.12],[-0.36,0.12],[-0.35,0.09],[-0.33,0.11],[-0.36,-0.02],[-0.38,-0.05],[-0.4,-0.03],[-0.42,-0.08],[-0.44,-0.1],[-0.42,-0.14],[-0.43,-0.17],[-0.45,-0.15],[-0.44,-0.2],[-0.46,-0.22],[-0.47,-0.12],[-0.5,-0.09],[-0.52,-0.13],[-0.5,-0.17],[-0.48,-0.19],[-0.52,-0.2],[-0.55,-0.15],[-0.57,-0.12],[-0.6,-0.08],[-0.46,0.0],[-0.48,0.05],[-0.5,0.08],[-0.52,0.05],[-0.54,0.03],[-0.56,0.07],[-0.58,-0.02],[-0.6,0.03],[-0.62,0.05],[-0.63,-0.03],[-0.65,0.02],[-0.66,0.08],[-0.64,0.12],[-0.66,-0.05],[-0.68,0.0],[-0.69,0.06],[-0.7,-0.04],[-0.72,0.03],[-0.74,-0.02],[-0.75,0.07],[-0.77,0.02],[-0.78,-0.06],[-0.8,0.04],[-0.82,-0.03],[-0.83,0.06],[-0.81,-0.1],[-0.78,-0.11],[-0.75,-0.09],[-0.72,-0.08],[-0.69,-0.1],[-0.67,-0.09],[-0.64,-0.1],[-0.6,-0.12],[-0.55,-0.05],[-0.52,-0.03],[-0.47,-0.05]];
const giantBotCore=[[-1.62,0.04],[-1.61,0.01],[-1.6,0.08],[-1.6,-0.01],[-1.59,0.03],[-1.58,0.1],[-1.58,-0.03],[-1.57,0.06],[-1.56,0.0],[-1.55,0.03],[-1.55,-0.05],[-1.54,0.07],[-1.53,0.01],[-1.52,0.11],[-1.52,-0.03],[-1.51,0.04],[-1.5,-0.06],[-1.5,0.08],[-1.49,0.01],[-1.48,0.13],
[-1.48,-0.04],[-1.47,0.05],[-1.46,0.11],[-1.46,-0.07],[-1.45,0.02],[-1.44,0.08],[-1.44,-0.03],[-1.43,-0.09],[-1.42,0.04],[-1.42,0.13],[-1.41,-0.01],[-1.4,0.09],[-1.4,-0.06],[-1.39,0.02],[-1.38,0.12],[-1.38,-0.09],[-1.37,0.06],[-1.36,-0.03],[-1.36,0.1],[-1.35,-0.06],
[-1.34,0.01],[-1.34,0.07],[-1.33,-0.08],[-1.32,0.12],[-1.32,-0.02],[-1.31,0.04],[-1.3,-0.05],[-1.3,0.09],[-1.29,0.01],[-1.28,-0.09],[-1.28,0.06],[-1.27,0.12],[-1.26,-0.03],[-1.26,0.03],[-1.25,-0.07],[-1.24,0.09],[-1.24,0.0],[-1.23,0.13],[-1.22,-0.05],[-1.22,0.05],
[-1.21,-0.09],[-1.2,0.02],[-1.2,0.09],[-1.19,-0.03],[-1.18,0.13],[-1.18,-0.07],[-1.17,0.04],[-1.16,0.09],[-1.16,-0.01],[-1.15,-0.09],[-1.14,0.05],[-1.14,0.12],[-1.13,-0.05],[-1.12,0.01],[-1.12,0.08],[-1.11,-0.08],[-1.1,0.13],[-1.1,0.03],[-1.09,-0.03],[-1.08,0.07],
[-1.08,-0.07],[-1.07,0.01],[-1.06,0.1],[-1.06,-0.1],[-1.05,0.04],[-1.04,-0.02],[-1.04,0.07],[-1.03,-0.06],[-1.02,0.02],[-1.01,0.06],[-1,-0.09],[-1,0.0],[-1,0.04],[-0.99,-0.04],[-0.98,0.08],[-0.97,-0.07],[-0.96,0.02],[-0.95,0.06],[-0.95,-0.02],[-0.94,-0.09],
[-0.93,0.03],[-0.92,0.07],[-0.91,-0.04],[-0.9,0.0],[-0.9,0.05],[-0.89,-0.08],[-0.88,0.08],[-0.87,-0.01],[-0.86,0.03],[-0.85,-0.06],[-0.84,0.06],[-0.83,-0.03]];
const giantBotStrips=[[-1.59,0.0,0.03,0.06],[-1.57,-0.02,0.01,0.04,0.07],[-1.55,-0.03,0,0.03,0.06],[-1.53,-0.04,-0.01,0.02,0.05,0.08],[-1.51,-0.05,-0.02,0.01,0.04,0.07,0.1],[-1.49,-0.06,-0.03,0,0.03,0.06,0.09],[-1.47,-0.07,-0.03,0,0.03,0.07,0.1],[-1.45,-0.08,-0.05,-0.01,0.02,0.05,0.08,0.11],[-1.43,-0.07,-0.04,-0.01,0.03,0.06,0.09],[-1.41,-0.09,-0.05,-0.02,0.01,0.04,0.07,0.1],[-1.39,-0.08,-0.05,-0.01,0.02,0.05,0.08],[-1.37,-0.09,-0.06,-0.03,0,0.03,0.07,0.1],[-1.35,-0.08,-0.04,-0.01,0.02,0.06,0.09],[-1.33,-0.09,-0.06,-0.03,0,0.04,0.07,0.1],[-1.31,-0.08,-0.05,-0.01,0.02,0.05,0.08],[-1.29,-0.09,-0.06,-0.03,0.01,0.04,0.07,0.1],[-1.27,-0.08,-0.04,-0.01,0.02,0.05,0.09],[-1.25,-0.09,-0.05,-0.02,0.01,0.04,0.07,0.1],[-1.23,-0.08,-0.05,-0.01,0.02,0.06,0.09],[-1.21,-0.07,-0.04,-0.01,0.03,0.06,0.1],[-1.19,-0.09,-0.05,-0.02,0.01,0.04,0.07],[-1.17,-0.08,-0.04,-0.01,0.03,0.06,0.09],[-1.15,-0.07,-0.04,0,0.03,0.07,0.1],[-1.13,-0.09,-0.05,-0.02,0.02,0.05,0.08],[-1.11,-0.07,-0.04,-0.01,0.02,0.05,0.09],[-1.09,-0.09,-0.05,-0.02,0.01,0.04,0.07],[-1.07,-0.07,-0.04,0,0.03,0.06],[-1.05,-0.08,-0.05,-0.02,0.01,0.04,0.07],[-1.03,-0.09,-0.04,-0.01,0.02,0.05],[-1.01,-0.07,-0.04,-0.01,0.02,0.05,0.08],[-0.99,-0.08,-0.05,-0.02,0.01,0.04],[-0.97,-0.09,-0.04,-0.01,0.02,0.06],[-0.95,-0.07,-0.04,0,0.03,0.05],[-0.93,-0.08,-0.05,-0.02,0.01,0.04,0.07],[-0.91,-0.07,-0.03,0,0.03,0.06],[-0.89,-0.08,-0.05,-0.02,0.02,0.05],[-0.87,-0.06,-0.03,0,0.03,0.06],[-0.85,-0.08,-0.05,-0.01,0.02,0.05],[-0.83,-0.07,-0.03,0,0.03,0.07],[-0.81,-0.08,-0.05,-0.02,0.01,0.05],[-0.79,-0.07,-0.03,0,0.04,0.07],[-0.77,-0.09,-0.05,-0.02,0.02,0.05],[-0.75,-0.07,-0.03,0.01,0.04],[-0.73,-0.09,-0.05,-0.01,0.02,0.06],[-0.71,-0.06,-0.03,0.01,0.04],[-0.69,-0.08,-0.04,0,0.03,0.06],[-0.67,-0.06,-0.02,0.01,0.05],[-0.65,-0.08,-0.04,0,0.04],[-0.63,-0.06,-0.02,0.02],[-0.61,-0.07,-0.03,0.01,0.04],[-0.59,-0.05,-0.01,0.03],[-0.57,-0.08,-0.03,0.02],[-0.55,-0.02,0.02,0.05],[-0.53,-0.07,-0.01,0.03],[-0.51,-0.05,0,0.04],[-0.49,-0.03,0.02],[-0.47,-0.08,0,0.04],[-0.45,-0.04,0.02],[-0.43,-0.06,0,0.05],[-0.41,-0.03,0.03]];

const strips=t=>t.flatMap(([x,...ys])=>ys.map(y=>[x,y]));
function axis(grid,pos,min,max,ticks,len,labels,extra){
  return Object.assign({type:'value',gridIndex:grid,position:pos,min,max,scale:false,z:10,
    axisLine:{show:true,onZero:false,lineStyle:{color:'#000',width:3}},
    splitLine:{show:false},
    axisTick:{show:true,inside:true,length:len,customValues:ticks,lineStyle:{color:'#000',width:1.7}},
    axisLabel:labels?{show:true,customValues:ticks,margin:pos==='left'?20:8,color:'#000',fontFamily:'DejaVu Serif',fontSize:32,
      formatter:v=>(Number(v)<0?'\u2212':'')+(labels==='y'?Math.abs(v).toFixed(1):Math.abs(v).toFixed(0))}:{show:false}
  },extra||{});
}
const xAxes=[],yAxes=[];
const X=[-2,0.6];
const Ys=[[-2,0.6,topMajor,topMinor],[-0.7,0.7,botMajor,botMinor]];
const yNames=['Predicted [M/H]','Residuals (dex)'];
const grids=[{left:169,top:7,width:512,height:534},{left:681,top:7,width:511,height:534},{left:169,top:541,width:512,height:373},{left:681,top:541,width:511,height:373}];
const nameStyle={nameLocation:'middle',nameRotate:90,nameTextStyle:{color:'#000',fontFamily:'DejaVu Serif',fontSize:41}};
grids.forEach((g,i)=>{
  const row=i<2?0:1,col=i%2;
  const [y0,y1,yM,ym]=Ys[row];
  xAxes.push(axis(i,'bottom',X[0],X[1],xMajor,16,row===1?'x':null));
  xAxes.push(axis(i,'bottom',X[0],X[1],xMinor,8,null));
  xAxes.push(axis(i,'top',X[0],X[1],xMajor,16,null));
  xAxes.push(axis(i,'top',X[0],X[1],xMinor,8,null));
  yAxes.push(axis(i,'left',y0,y1,yM,16,col===0?'y':null,col===0?Object.assign({name:yNames[row],nameGap:118},nameStyle):null));
  yAxes.push(axis(i,'left',y0,y1,ym,8,null));
  yAxes.push(axis(i,'right',y0,y1,yM,16,null));
  yAxes.push(axis(i,'right',y0,y1,ym,8,null));
});
const stray=axis(2,'left',-0.7,0.7,strayTick,18,null);
stray.axisTick.inside=false;yAxes.push(stray);
const GREEN={color:'rgba(0,183,65,0.5)',borderColor:'rgba(0,40,20,0.42)',borderWidth:1};
const BLUE={color:'rgba(5,89,173,0.5)',borderColor:'rgba(0,20,50,0.45)',borderWidth:1};
const idx=i=>({xAxisIndex:i*4,yAxisIndex:i*4});
const pts=(i,data,style)=>Object.assign({type:'scatter',data,symbol:'circle',symbolSize:11,itemStyle:style,z:3,silent:true,animation:false,progressive:0,large:false},idx(i));
const line=(i,data,z,extra)=>Object.assign({type:'line',data,symbol:'none',silent:true,animation:false,z,lineStyle:{color:'#000',width:2,type:[7,4]}},idx(i),extra||{});
const band=(i,h)=>line(i,zeroLine,1,{lineStyle:{opacity:0},markArea:{silent:true,animation:false,itemStyle:{color:'#d6d6d6',opacity:1},data:[[{yAxis:h},{yAxis:-h}]]}});
const series=[
 pts(0,allTopEdge,GREEN),pts(0,allTopCoreA,GREEN),pts(0,strips(allTopStrips),GREEN),pts(0,allTopCoreB,GREEN),pts(0,allTopOutliers,GREEN),line(0,identityLine,5),
 pts(1,giantTopCore,BLUE),pts(1,strips(giantTopStrips),BLUE),pts(1,giantTopTrail,BLUE),pts(1,giantTopOutliers,BLUE),line(1,identityLine,5),
 band(2,allBand),pts(2,allBotCoreA,GREEN),pts(2,strips(allBotStrips),GREEN),pts(2,allBotCoreB,GREEN),pts(2,allBotOutliers,GREEN),line(2,zeroLine,5),
 band(3,giantBand),pts(3,giantBotCore,BLUE),pts(3,strips(giantBotStrips),BLUE),pts(3,giantBotFill,BLUE),pts(3,giantBotTrail,BLUE),pts(3,giantBotOutliers,BLUE),line(3,zeroLine,5)
];
const box=(l,w)=>({type:'rect',left:l,top:22,shape:{width:w,height:80,r:4},style:{fill:'#fff',stroke:'#d9d9d9',lineWidth:3},z:20});
const txt=(text,l,t,size)=>({type:'text',left:l,top:t,style:{text,fill:'#000',font:size+'px "DejaVu Serif"'},z:21});
const chart=echarts.init(document.getElementById('c'),null,{renderer:'canvas'});
chart.setOption({animation:false,backgroundColor:'#fff',grid:grids,xAxis:xAxes,yAxis:yAxes,series,
 graphic:[box(185,199),box(697,154),txt('All Stars',198,34,39.5),txt('Giants',710,34,39.5),txt('Spectroscopic [M/H]',454,974,40.6)]});
</script></body></html>
